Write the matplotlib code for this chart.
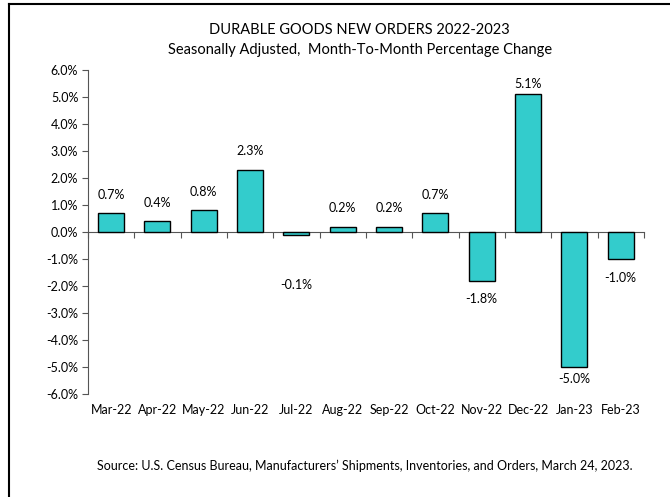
import matplotlib.pyplot as plt
from matplotlib.lines import Line2D
from matplotlib.ticker import FuncFormatter, MultipleLocator

# === DATA ===
months = ["Mar-22", "Apr-22", "May-22", "Jun-22", "Jul-22", "Aug-22",
          "Sep-22", "Oct-22", "Nov-22", "Dec-22", "Jan-23", "Feb-23"]
pct_change = [0.7, 0.4, 0.8, 2.3, -0.1, 0.2, 0.2, 0.7, -1.8, 5.1, -5.0, -1.0]

title = "DURABLE GOODS NEW ORDERS 2022-2023\nSeasonally Adjusted,  Month-To-Month Percentage Change"
source = "Source: U.S. Census Bureau, Manufacturers\u2019 Shipments, Inventories, and Orders, March 24, 2023."

plt.rcParams["font.family"] = ["Lato", "DejaVu Sans"]

fig = plt.figure(figsize=(6.7, 4.97), dpi=100)
ax = fig.add_axes([0.1313, 0.2072, 0.8297, 0.6518])

x = list(range(len(months)))
ax.bar(x, pct_change, width=0.56, color="#33CCCC", edgecolor="black", linewidth=1, zorder=3)

ax.set_xlim(-0.5, len(months) - 0.5)
ax.set_ylim(-6, 6)
ax.yaxis.set_major_locator(MultipleLocator(1))
ax.yaxis.set_major_formatter(FuncFormatter(lambda v, p: f"{v:.1f}%"))
ax.tick_params(axis="y", labelsize=9, length=4, color="#555555", pad=3)

# x axis line at zero, ticks at category boundaries
for s in ["top", "right"]:
    ax.spines[s].set_visible(False)
ax.spines["bottom"].set_position(("data", 0))
ax.spines["bottom"].set_color("#555555")
ax.spines["left"].set_color("#555555")
ax.set_xticks([i - 0.5 for i in range(len(months) + 1)])
ax.set_xticklabels([])
ax.tick_params(axis="x", length=4, direction="out", color="#555555")

# month labels under the plot
for i, m in enumerate(months):
    ax.text(i, -0.05, m, transform=ax.get_xaxis_transform(), ha="center", va="center", fontsize=9)

# data labels
extra = {4: 23, 9: -6, 10: -5}
for i, v in enumerate(pct_change):
    off = 9 + extra.get(i, 0)
    if v >= 0:
        ax.annotate(f"{v:.1f}%", (i, v), xytext=(0, off), textcoords="offset points",
                    ha="center", va="bottom", fontsize=9)
    else:
        ax.annotate(f"{v:.1f}%", (i, v), xytext=(0, -off), textcoords="offset points",
                    ha="center", va="top", fontsize=9)

fig.text(0.537, 0.92, title, ha="center", va="center", fontsize=10.5, linespacing=1.5)
fig.text(0.545, 0.062, source, ha="center", va="center", fontsize=9)

# chart border (left and top)
fig.add_artist(Line2D([0.013, 0.013], [0, 0.991], transform=fig.transFigure, color="black", lw=1.5))
fig.add_artist(Line2D([0.013, 1.0], [0.991, 0.991], transform=fig.transFigure, color="black", lw=1.5))

plt.savefig("out.png", dpi=100)
